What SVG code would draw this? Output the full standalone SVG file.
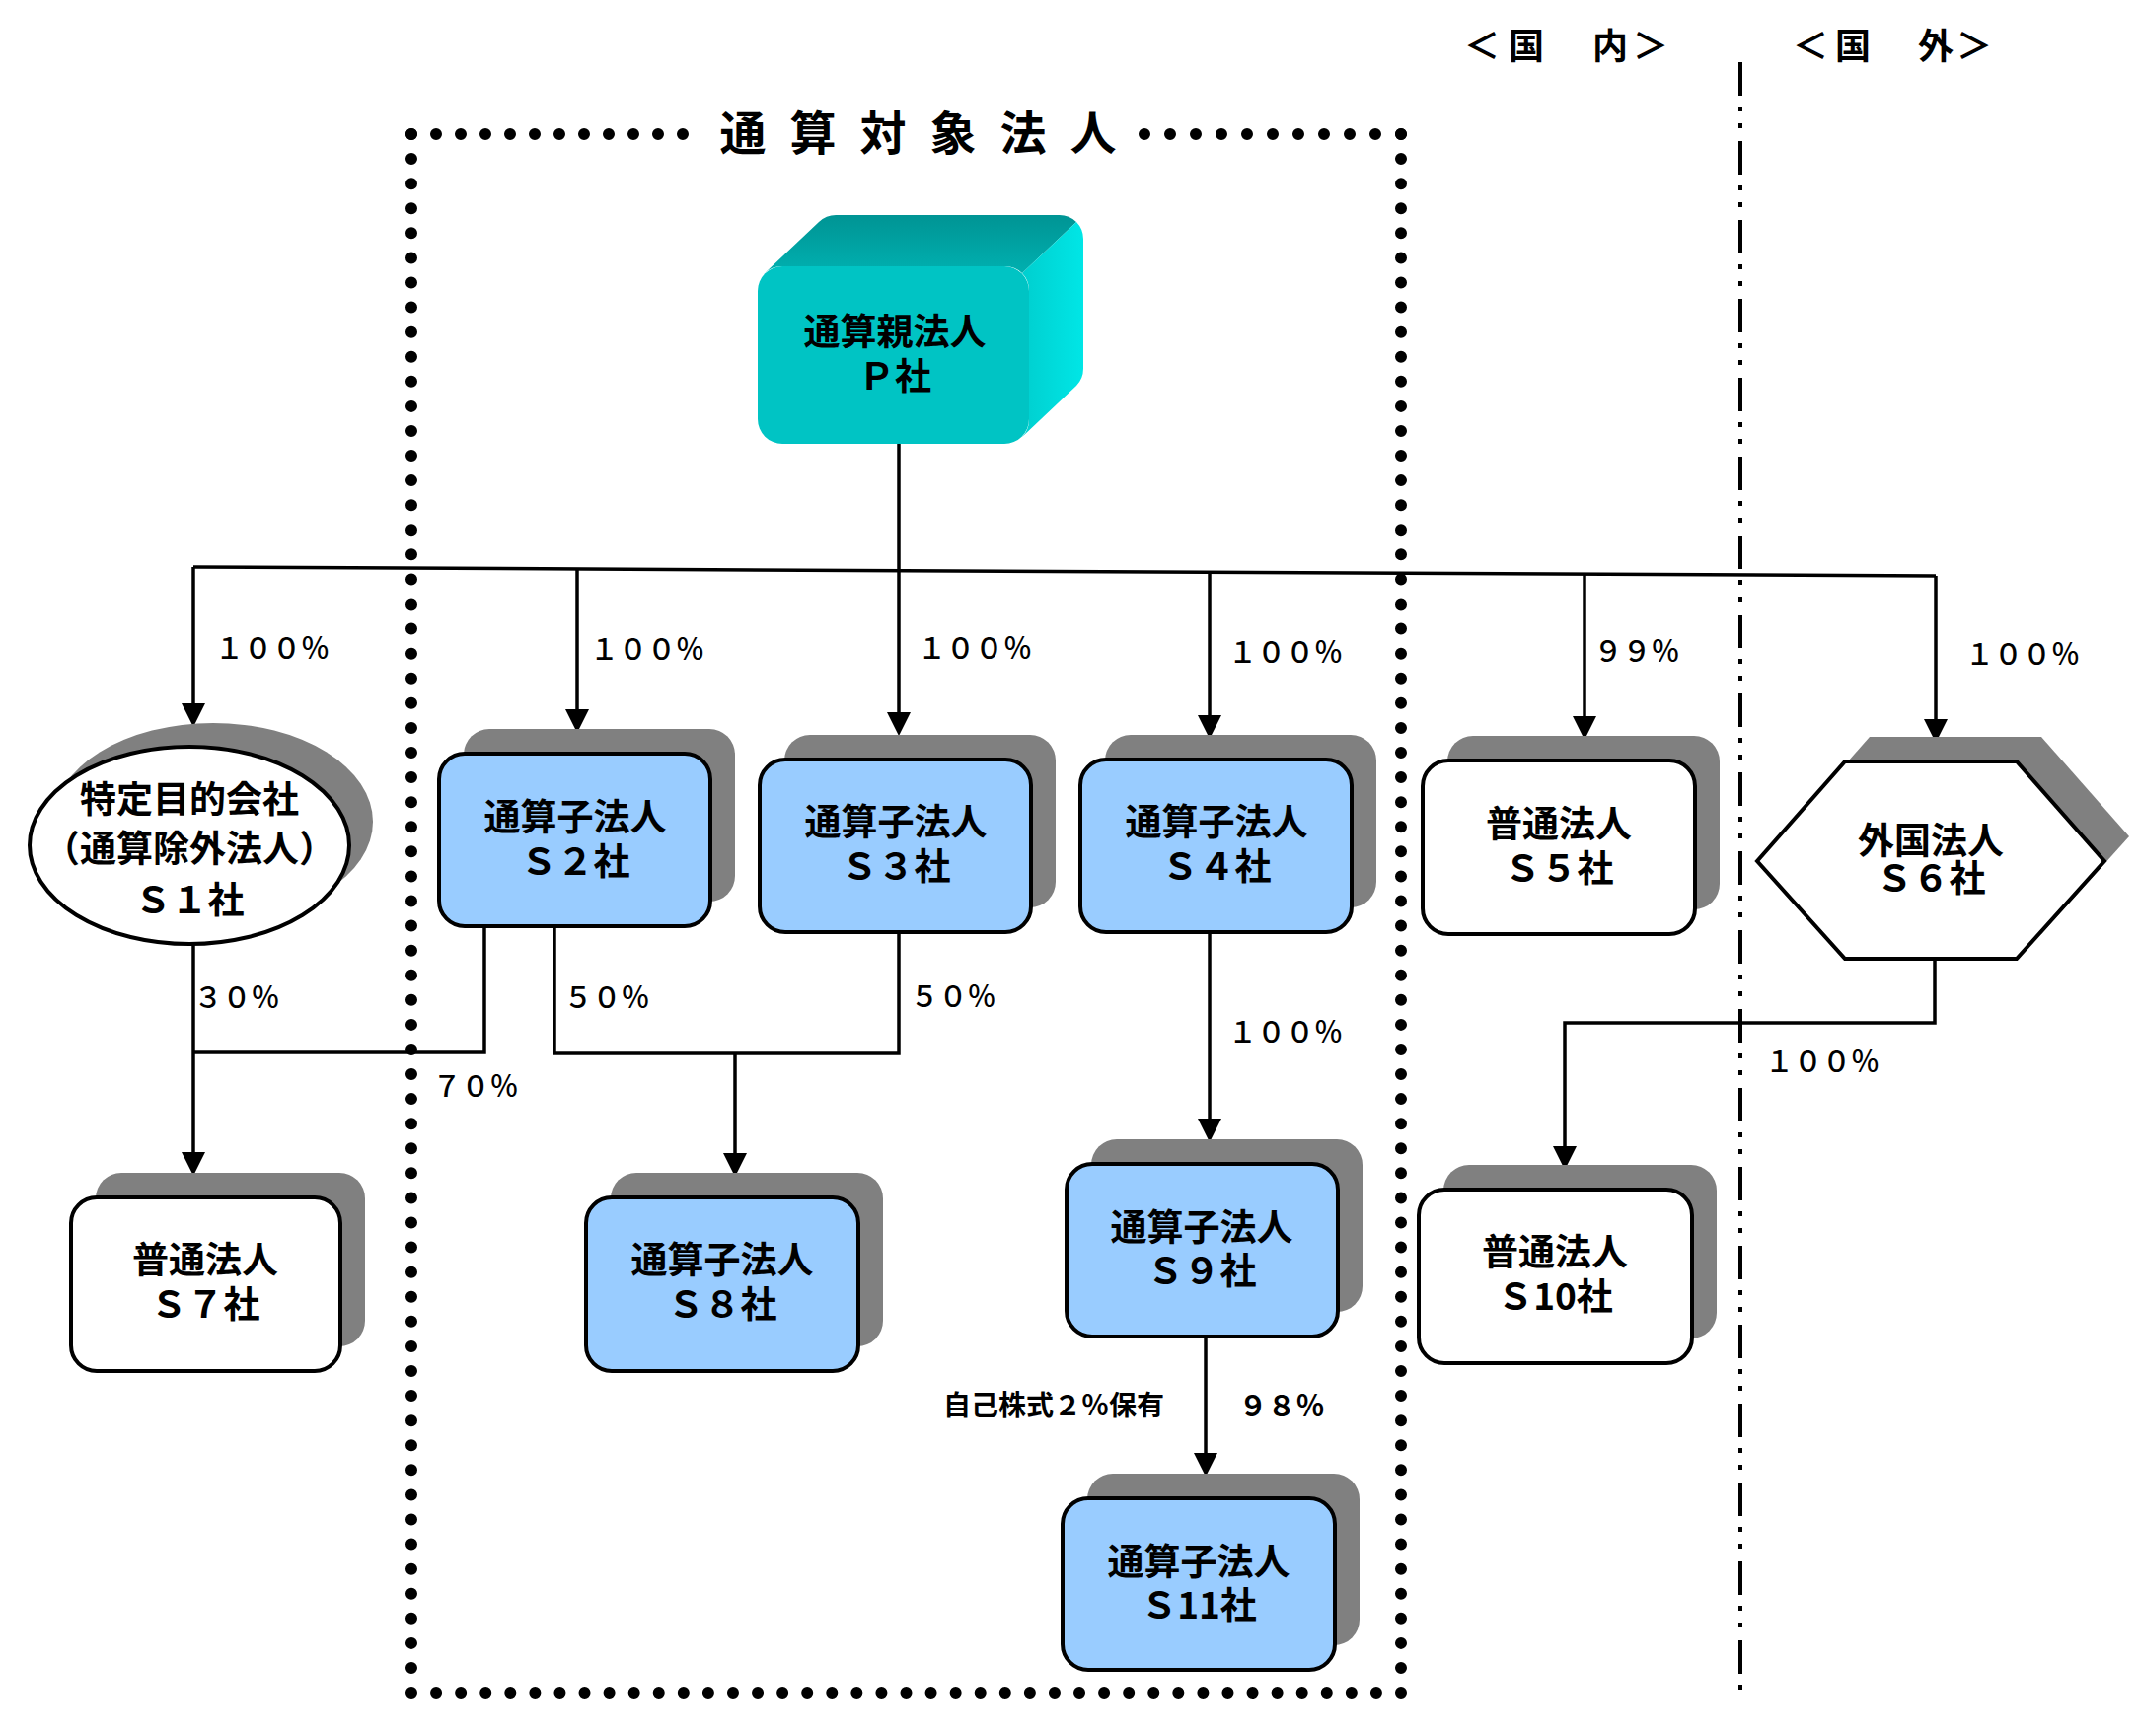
<svg xmlns="http://www.w3.org/2000/svg" width="2167" height="1760" viewBox="0 0 2167 1760">
<style>
.box{stroke:#000;stroke-width:4}
.blue{fill:#99CCFF}
.white{fill:#fff}
.shadow{fill:#808080}
.lbl{font-family:"Noto Sans CJK JP","Noto Sans CJK SC",sans-serif;font-weight:bold;font-size:37px;text-anchor:middle;fill:#000}
.note{font-family:"Noto Sans CJK JP","Noto Sans CJK SC",sans-serif;font-weight:bold;font-size:28px;text-anchor:middle;fill:#000}
.pct{font-family:"Noto Sans CJK JP","Noto Sans CJK SC",sans-serif;font-weight:500;font-size:29px;text-anchor:middle;fill:#000}
.pctb{font-family:"Noto Sans CJK JP","Noto Sans CJK SC",sans-serif;font-weight:bold;font-size:29px;text-anchor:middle;fill:#000}
.conn{stroke:#000;stroke-width:3.5;fill:none}
.dots{stroke:#000;stroke-width:12;stroke-linecap:round;fill:none}
.title{font-family:"Noto Sans CJK JP","Noto Sans CJK SC",sans-serif;font-weight:bold;font-size:47px;text-anchor:middle;fill:#000}
.region{font-family:"Noto Sans CJK JP","Noto Sans CJK SC",sans-serif;font-weight:bold;font-size:36px;text-anchor:middle;fill:#000}
</style>
<defs>
<marker id="arr" markerUnits="userSpaceOnUse" markerWidth="24" markerHeight="24" viewBox="0 0 24 24" refX="20" refY="12" orient="auto">
<path d="M0,0 L24,12 L0,24 Z" fill="#000"/>
</marker>
<linearGradient id="topG" x1="0" y1="0" x2="0" y2="1">
<stop offset="0" stop-color="#009494"/>
<stop offset="1" stop-color="#00B0B0"/>
</linearGradient>
<linearGradient id="rightG" x1="0" y1="0" x2="1" y2="0">
<stop offset="0" stop-color="#00CFCF"/>
<stop offset="1" stop-color="#00E6E6"/>
</linearGradient>
</defs>
<rect width="2167" height="1760" fill="#fff"/>

<g id="frame">
<path class="dots" d="M417,136 L694,136" stroke-dasharray="0 25"/>
<path class="dots" d="M1420,136 L1157,136" stroke-dasharray="0 26"/>
<path class="dots" d="M417,136 L417,1716" stroke-dasharray="0 25.08"/>
<path class="dots" d="M417,1716 L1420,1716" stroke-dasharray="0 25.075"/>
<path class="dots" d="M1420,136 L1420,1716" stroke-dasharray="0 25.08"/>
<text class="title" x="753 824 895 966 1037 1108" y="152">通算対象法人</text>
</g>

<g id="regions">
<text class="region" x="1502 1547 1632 1673" y="60">＜国内＞</text>
<text class="region" x="1835 1878 1962 2001" y="60">＜国外＞</text>
<path d="M1764,63 L1764,1714" stroke="#000" stroke-width="4" fill="none" stroke-dasharray="34 11 5 12 5 13"/>
</g>

<g id="connectors">
<path class="conn" d="M196,575 L1962,584"/>
<path class="conn" d="M911,450 L911,742" marker-end="url(#arr)"/>
<path class="conn" d="M196,575 L196,733" marker-end="url(#arr)"/>
<path class="conn" d="M585,576 L585,739" marker-end="url(#arr)"/>
<path class="conn" d="M1226,580 L1226,745" marker-end="url(#arr)"/>
<path class="conn" d="M1606,582 L1606,746" marker-end="url(#arr)"/>
<path class="conn" d="M1962,584 L1962,749" marker-end="url(#arr)"/>
<path class="conn" d="M196,958 L196,1188" marker-end="url(#arr)"/>
<path class="conn" d="M491,940 L491,1067 L196,1067"/>
<path class="conn" d="M562,940 L562,1068 L911,1068 L911,945"/>
<path class="conn" d="M745,1068 L745,1189" marker-end="url(#arr)"/>
<path class="conn" d="M1226,945 L1226,1154" marker-end="url(#arr)"/>
<path class="conn" d="M1222,1355 L1222,1493" marker-end="url(#arr)"/>
<path class="conn" d="M1961,972 L1961,1037 L1586,1037 L1586,1182" marker-end="url(#arr)"/>
<text class="pct" x="276" y="668">１００％</text>
<text class="pct" x="656" y="669">１００％</text>
<text class="pct" x="988" y="668">１００％</text>
<text class="pct" x="1303" y="672">１００％</text>
<text class="pct" x="1659" y="671">９９％</text>
<text class="pct" x="2050" y="674">１００％</text>
<text class="pct" x="240" y="1022">３０％</text>
<text class="pct" x="482" y="1112">７０％</text>
<text class="pct" x="615" y="1022">５０％</text>
<text class="pct" x="966" y="1021">５０％</text>
<text class="pct" x="1303" y="1057">１００％</text>
<text class="pct" x="1847" y="1087">１００％</text>
<text class="pctb" x="1299" y="1436">９８％</text>
<text class="note" x="1068" y="1435">自己株式２％保有</text>
</g>

<g id="P">
<path d="M775,277 L830,225 A25,25 0 0 1 848,218 L1073,218 A25,25 0 0 1 1091,225 L1036,277 A25,25 0 0 0 1018,270 L793,270 A25,25 0 0 0 775,277 Z" fill="url(#topG)"/>
<path d="M1036,277 L1091,225 A25,25 0 0 1 1098,243 L1098,373 A25,25 0 0 1 1091,391 L1036,443 A25,25 0 0 0 1043,425 L1043,295 A25,25 0 0 0 1036,277 Z" fill="url(#rightG)"/>
<rect x="768" y="270" width="275" height="180" rx="25" fill="#00C4C4"/>
<text class="lbl"><tspan x="907" y="350">通算親法人</tspan><tspan x="907" y="395">Ｐ社</tspan></text>
</g>

<g id="S1">
<ellipse class="shadow" cx="216" cy="833" rx="162" ry="100"/>
<ellipse class="box white" cx="192" cy="857" rx="162" ry="100"/>
<text class="lbl"><tspan x="192" y="824">特定目的会社</tspan><tspan x="192" y="874">（通算除外法人）</tspan><tspan x="192" y="926">Ｓ１社</tspan></text>
</g>

<g id="S2">
<rect class="shadow" x="470" y="739" width="275" height="175" rx="26"/>
<rect class="box blue" x="445" y="764" width="275" height="175" rx="26"/>
<text class="lbl"><tspan x="583" y="842">通算子法人</tspan><tspan x="583" y="887">Ｓ２社</tspan></text>
</g>

<g id="S3">
<rect class="shadow" x="795" y="745" width="275" height="175" rx="26"/>
<rect class="box blue" x="770" y="770" width="275" height="175" rx="26"/>
<text class="lbl"><tspan x="908" y="847">通算子法人</tspan><tspan x="908" y="892">Ｓ３社</tspan></text>
</g>

<g id="S4">
<rect class="shadow" x="1120" y="745" width="275" height="175" rx="26"/>
<rect class="box blue" x="1095" y="770" width="275" height="175" rx="26"/>
<text class="lbl"><tspan x="1233" y="847">通算子法人</tspan><tspan x="1233" y="892">Ｓ４社</tspan></text>
</g>

<g id="S5">
<rect class="shadow" x="1467" y="746" width="276" height="176" rx="26"/>
<rect class="box white" x="1442" y="771" width="276" height="176" rx="26"/>
<text class="lbl"><tspan x="1580" y="849">普通法人</tspan><tspan x="1580" y="894">Ｓ５社</tspan></text>
</g>

<g id="S6">
<polygon class="shadow" points="1806,848 1895,747 2069,747 2158,848 2069,947 1895,947"/>
<polygon class="box white" points="1781,873 1870,772 2044,772 2133,873 2044,972 1870,972"/>
<text class="lbl"><tspan x="1957" y="866">外国法人</tspan><tspan x="1957" y="904">Ｓ６社</tspan></text>
</g>

<g id="S7">
<rect class="shadow" x="97" y="1189" width="273" height="176" rx="26"/>
<rect class="box white" x="72" y="1214" width="273" height="176" rx="26"/>
<text class="lbl"><tspan x="208" y="1291">普通法人</tspan><tspan x="208" y="1336">Ｓ７社</tspan></text>
</g>

<g id="S8">
<rect class="shadow" x="619" y="1189" width="276" height="176" rx="26"/>
<rect class="box blue" x="594" y="1214" width="276" height="176" rx="26"/>
<text class="lbl"><tspan x="732" y="1291">通算子法人</tspan><tspan x="732" y="1336">Ｓ８社</tspan></text>
</g>

<g id="S9">
<rect class="shadow" x="1106" y="1155" width="275" height="175" rx="26"/>
<rect class="box blue" x="1081" y="1180" width="275" height="175" rx="26"/>
<text class="lbl"><tspan x="1218" y="1258">通算子法人</tspan><tspan x="1218" y="1302">Ｓ９社</tspan></text>
</g>

<g id="S10">
<rect class="shadow" x="1463" y="1181" width="277" height="176" rx="26"/>
<rect class="box white" x="1438" y="1206" width="277" height="176" rx="26"/>
<text class="lbl"><tspan x="1576" y="1283">普通法人</tspan><tspan x="1576" y="1328">Ｓ10社</tspan></text>
</g>

<g id="S11">
<rect class="shadow" x="1102" y="1494" width="276" height="174" rx="26"/>
<rect class="box blue" x="1077" y="1519" width="276" height="174" rx="26"/>
<text class="lbl"><tspan x="1215" y="1597">通算子法人</tspan><tspan x="1215" y="1641">Ｓ11社</tspan></text>
</g>
</svg>
